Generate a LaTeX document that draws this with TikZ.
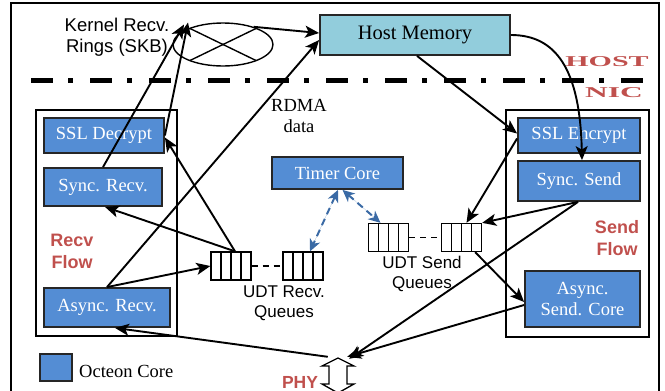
\documentclass[tikz,border=0pt]{standalone}
\usepackage{fontspec}
\setmainfont{Liberation Serif}
\setsansfont{Liberation Sans}
\usetikzlibrary{arrows.meta,shapes.geometric}
\definecolor{coreblue}{RGB}{84,141,212}
\definecolor{hostcyan}{RGB}{146,205,220}
\definecolor{flowred}{RGB}{192,80,77}
\definecolor{dashblue}{RGB}{58,106,165}
\begin{document}
\begin{tikzpicture}[x=1pt,y=-1pt,
  core/.style={draw=black!85, line width=1.8pt, fill=coreblue, text=white, inner sep=0pt, font=\fontsize{18.5}{21}\selectfont, align=center},
  flowbox/.style={draw, line width=1.4pt},
  queue/.style={draw, line width=1.3pt, minimum width=40pt, minimum height=28pt, inner sep=0pt,
    path picture={\foreach \i in {1,2,3}{\draw[line width=1.3pt] ([xshift={\i*10pt}]path picture bounding box.south west) -- ([xshift={\i*10pt}]path picture bounding box.north west);}}},
  arr/.style={-{Stealth[length=14pt,width=12pt,inset=3.5pt]}, line width=1.9pt},
  tarr/.style={{Stealth[length=12pt,width=11pt,inset=3.5pt]}-{Stealth[length=12pt,width=11pt,inset=3.5pt]}, line width=2pt, draw=dashblue, fill=dashblue, dash pattern=on 7pt off 5pt},
  qdash/.style={line width=1.3pt, dash pattern=on 6pt off 5pt},
  sanslbl/.style={font=\sffamily\fontsize{18.5}{21}\selectfont, align=center, inner sep=0pt},
  qlbl/.style={font=\sffamily\fontsize{17}{20}\selectfont, align=center, inner sep=0pt},
  redlbl/.style={font=\sffamily\bfseries\fontsize{18}{22}\selectfont, text=flowred, align=center, inner sep=0pt},
  seriflbl/.style={font=\fontsize{18.5}{21}\selectfont, align=center, inner sep=0pt},
  widelbl/.style={font=\bfseries\fontsize{15}{15}\selectfont, text=flowred, inner sep=0pt}
]
\useasboundingbox (0,0) rectangle (665,391);
% outer frame
\draw[line width=1.4pt] (11,3) rectangle (659,400);
% host/nic separator
\draw[line width=5pt, dash pattern=on 22pt off 15pt on 5pt off 17pt] (31,80) -- (660,80);
\node[widelbl] (host) at (607,62) {\scalebox{2.0}[1]{HOST}};
\node[widelbl] (nic) at (614,93) {\scalebox{2.1}[1]{NIC}};

% flow boxes
\draw[flowbox] (36,110) rectangle (177,336);
\draw[flowbox] (506,110) rectangle (649,337);

% kernel rings
\node[draw, ellipse, line width=1.4pt, minimum width=100pt, minimum height=43pt, inner sep=0pt] (ell) at (223,44.5) {};
\draw[line width=1.4pt] ([shift={(-33,-16)}]ell.center) -- ([shift={(33,16)}]ell.center);
\draw[line width=1.4pt] ([shift={(-33,16)}]ell.center) -- ([shift={(33,-16)}]ell.center);
\node[sanslbl] (klbl) at (117,37) {Kernel Recv.\\Rings (SKB)};

% host memory
\node[draw=black!85, line width=1.8pt, fill=hostcyan, minimum width=190pt, minimum height=40pt, inner sep=0pt, font=\fontsize{20.5}{22}\selectfont] (hm) at (415,35) {Host Memory};

% cores
\node[core, minimum width=120pt, minimum height=35pt] (ssd) at (104,135.5) {SSL Decrypt};
\node[core, minimum width=118pt, minimum height=38pt] (srv) at (103,187) {Sync. Recv.};
\node[core, minimum width=126pt, minimum height=39pt] (arv) at (107,307.5) {Async. Recv.};
\node[core, minimum width=122pt, minimum height=35pt] (sse) at (579,135.5) {SSL Encrypt};
\node[core, minimum width=122pt, minimum height=40pt] (sys) at (579,181) {Sync. Send};
\node[core, minimum width=115pt, minimum height=56pt] (asc) at (582.5,299) {Async.\\Send. Core};
\node[core, minimum width=131pt, minimum height=32pt] (tc) at (337.5,173) {Timer Core};
\node[core, minimum width=32pt, minimum height=27pt] (leg) at (56,367.5) {};
\node[seriflbl, anchor=west] (legl) at (79,371) {Octeon Core};

\node[redlbl] (rflow) at (72,251) {Recv\\Flow};
\node[redlbl] (sflow) at (617,238) {Send\\Flow};
\node[seriflbl] (rdma) at (299,116) {RDMA\\data};

% queues
\node[queue] (rq1) at (231,266) {};
\node[queue] (rq2) at (303,266) {};
\node[queue] (sq1) at (388.5,237.5) {};
\node[queue] (sq2) at (461.5,237.5) {};
\draw[qdash] (rq1.east) -- (rq2.west);
\draw[qdash] (sq1.east) -- (sq2.west);
\node[qlbl] (rql) at (284,303) {UDT Recv.\\Queues};
\node[qlbl] (sql) at (422,274) {UDT Send\\Queues};

% PHY
\draw[line width=1.3pt, fill=white] (338,358) -- (354,366) -- (347,366) -- (347,384) -- (354,384) -- (338,393) -- (322,384) -- (329,384) -- (329,366) -- (322,366) -- cycle;
\node[inner sep=0pt, minimum width=18pt, minimum height=34pt] (phy) at (338,383) {};
\node[redlbl, font=\sffamily\bfseries\fontsize{17.5}{20}\selectfont] (phyl) at (300,382) {PHY};

% connectors
\draw[arr] (ell.30) -- ([yshift=2pt]hm.west);
\draw[arr] (srv.north) -- ([shift={(-39,-20)}]ell.center);
\draw[arr] (ssd.east) -- ([shift={(-35,-22)}]ell.center);
\draw[arr] (arv.north) -- ([yshift=-5pt]hm.west);
\draw[arr] ([xshift=2pt]hm.south) -- ([yshift=2pt]sse.west);
\draw[arr] (hm.east) .. controls +(45,0) and +(-2,-91) .. ([xshift=3pt]sys.north);
\draw[arr] ([yshift=-3pt]sse.west) -- ([xshift=5pt]sq2.north);
\draw[arr] ([xshift=-1pt]sys.south) -- (sq2.north east);
\draw[arr] ([xshift=-1pt]sys.south) -- ([shift={(2,-7)}]phy.north east);
\draw[arr] ([xshift=-7pt]sq2.south east) -- ([yshift=-3pt]asc.west);
\draw[arr] ([yshift=-6pt]asc.west) -- ([shift={(0,-9)}]phy.north east);
\draw[arr] ([shift={(-1,-9)}]phy.north west) -- ([xshift=8pt]arv.south);
\draw[arr] (arv.north) -- (rq1.west);
\draw[arr] ([xshift=4pt]rq1.north) -- ([xshift=2pt]srv.south);
\draw[arr] ([xshift=4pt]rq1.north) -- ([yshift=-2pt]ssd.east);
\draw[tarr] ([xshift=0.5pt]tc.south) -- ([xshift=7pt]rq2.north);
\draw[tarr] ([xshift=5pt]tc.south) -- ([xshift=-8pt]sq1.north);
\end{tikzpicture}
\end{document}
